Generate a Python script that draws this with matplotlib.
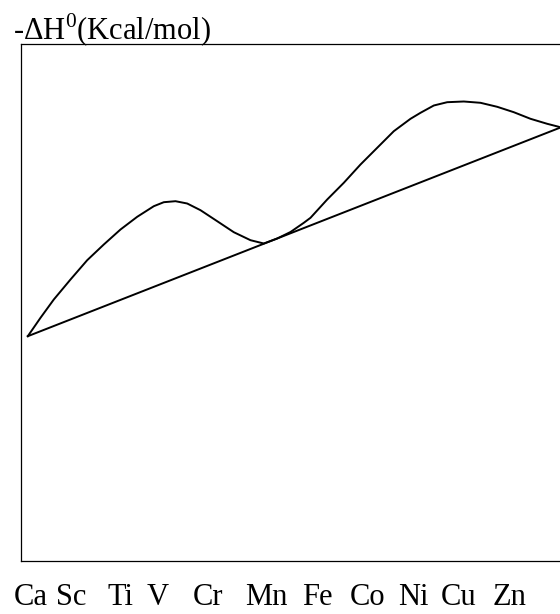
import matplotlib.pyplot as plt

plt.rcParams['font.family'] = ['Liberation Serif', 'DejaVu Serif']
plt.rcParams['mathtext.fontset'] = 'custom'
plt.rcParams['mathtext.rm'] = 'Liberation Serif'

# 元素 (ラベル位置は図から読み取り)
elements = ['Ca', 'Sc', 'Ti', 'V', 'Cr', 'Mn', 'Fe', 'Co', 'Ni', 'Cu', 'Zn']
element_x = [10, 51, 100, 137, 187, 246, 297, 347, 393, 438, 489]

# 直線 (両端)
line_x = [7.3, 540]
line_y = [224.3, 433]

# 曲線
curve_x = [7.3, 20, 33.3, 50, 66.7, 83.3, 100, 116.7, 133.3, 143.3, 155,
           166.7, 180, 196.7, 213.3, 230, 243.3, 256.7, 270, 283.3, 290,
           306.7, 323.3, 340, 356.7, 373.3, 390, 400, 413.3, 426.7, 443.3,
           460, 476.7, 493.3, 510, 526.7, 538.3, 540]
curve_y = [224.3, 242.7, 261, 281, 300.3, 316, 331, 343.7, 354.3, 358.3,
           359.3, 357, 350.3, 339.3, 328.3, 320.3, 317, 322, 328.5, 337.7,
           342.7, 361, 377.7, 396, 412.7, 429.3, 441.7, 447.7, 455, 458.3,
           459, 457.7, 453.7, 448.3, 441.7, 436.7, 433.7, 433]

fig = plt.figure(figsize=(5.6, 6.14), dpi=100)
ax = fig.add_axes([20.5 / 560, 53.5 / 614, 545 / 560, 517 / 614])

ax.plot(line_x, line_y, color='black', lw=1.4, solid_joinstyle='round')
ax.plot(curve_x, curve_y, color='black', lw=1.4, solid_joinstyle='round')

ax.set_xlim(0, 545)
ax.set_ylim(0, 517)
ax.spines['right'].set_visible(False)
for s in ['left', 'top', 'bottom']:
    ax.spines[s].set_linewidth(0.9)

ax.set_xticks(element_x)
ax.set_xticklabels(elements, fontsize=22)
ax.tick_params(axis='x', length=0, pad=16)
ax.set_yticks([])

fig.text(13 / 560, 1 - 40 / 614, r'-$\Delta$H$^{0}$(Kcal/mol)', fontsize=22,
         ha='left', va='baseline')

plt.savefig('out.png')
